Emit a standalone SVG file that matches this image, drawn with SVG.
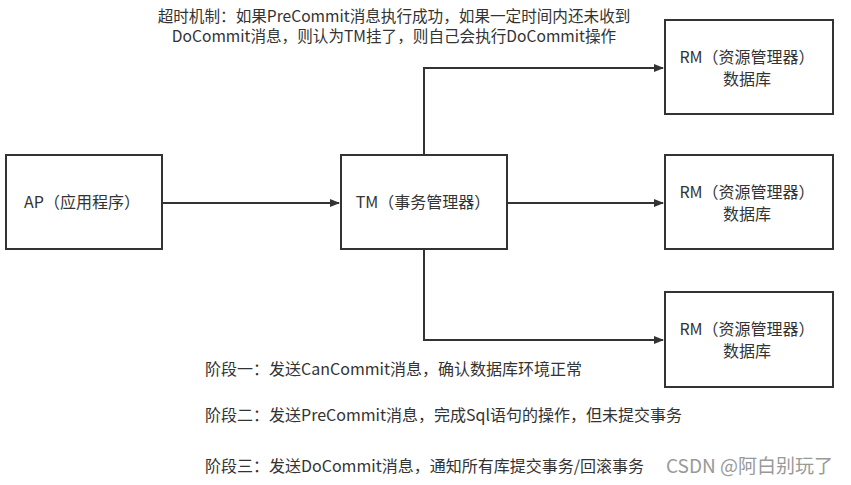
<svg xmlns="http://www.w3.org/2000/svg" width="851" height="485" viewBox="0 0 851 485">
<style>
.box{fill:#fff;stroke:#333;stroke-width:2}
.t{font-family:"Noto Sans CJK SC","Noto Sans",sans-serif;font-size:16px;fill:#333}
.c{text-anchor:middle}
.edge{fill:none;stroke:#333;stroke-width:2}
</style>
<defs>
<marker id="arr" markerWidth="10" markerHeight="8" refX="9" refY="4" orient="auto" markerUnits="userSpaceOnUse">
<path d="M0,0 L10,4 L0,8 Z" fill="#333"/>
</marker>
</defs>
<rect width="851" height="485" fill="#fff"/>
<g id="title">
<text class="t c" x="394" y="22" style="font-size:15.6px">超时机制：如果PreCommit消息执行成功，如果一定时间内还未收到</text>
<text class="t c" x="394" y="42" style="font-size:15.6px">DoCommit消息，则认为TM挂了，则自己会执行DoCommit操作</text>
</g>
<g id="connectors">
<path class="edge" d="M162,203 L339,203" marker-end="url(#arr)"/>
<path class="edge" d="M424,155 L424,68 L663,68" marker-end="url(#arr)"/>
<path class="edge" d="M507,203 L663,203" marker-end="url(#arr)"/>
<path class="edge" d="M424,249 L424,340 L663,340" marker-end="url(#arr)"/>
</g>
<g id="ap">
<rect class="box" x="6" y="155" width="156" height="94"/>
<text class="t c" x="82" y="208">AP（应用程序）</text>
</g>
<g id="tm">
<rect class="box" x="341" y="155" width="166" height="94"/>
<text class="t c" x="423" y="208">TM（事务管理器）</text>
</g>
<g id="rm1">
<rect class="box" x="665" y="20" width="168" height="94"/>
<text class="t c" x="747" y="63">RM（资源管理器）</text>
<text class="t c" x="747" y="85">数据库</text>
</g>
<g id="rm2">
<rect class="box" x="665" y="155" width="168" height="94"/>
<text class="t c" x="747" y="198">RM（资源管理器）</text>
<text class="t c" x="747" y="220">数据库</text>
</g>
<g id="rm3">
<rect class="box" x="665" y="292" width="168" height="95"/>
<text class="t c" x="747" y="335">RM（资源管理器）</text>
<text class="t c" x="747" y="357">数据库</text>
</g>
<g id="phases">
<text class="t" x="205" y="375">阶段一：发送CanCommit消息，确认数据库环境正常</text>
<text class="t" x="205" y="421">阶段二：发送PreCommit消息，完成Sql语句的操作，但未提交事务</text>
<text class="t" x="205" y="472">阶段三：发送DoCommit消息，通知所有库提交事务/回滚事务</text>
</g>
<text x="666" y="473" style="font-family:'Noto Sans CJK SC','Noto Sans',sans-serif;font-size:19px;fill:#999">CSDN @阿白别玩了</text>
</svg>
